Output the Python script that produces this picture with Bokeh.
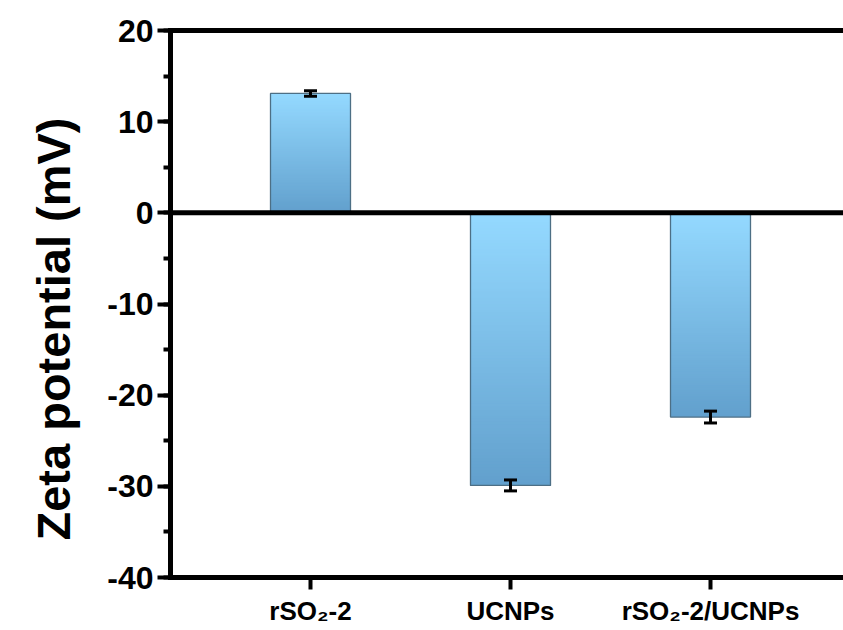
import numpy as np
from bokeh.plotting import figure
from bokeh.models import (Range1d, FixedTicker, SingleIntervalTicker, LinearAxis,
                          Span, Whisker, TeeHead, ColumnDataSource, Title)
from bokeh.embed import file_html
from bokeh.resources import INLINE

# Zeta potential measurements (mV) with standard deviations
samples = ["rSO\u2082-2", "UCNPs", "rSO\u2082-2/UCNPs"]
zeta_mv = [13.1, -29.9, -22.4]
zeta_err = [0.3, 0.6, 0.65]
y_ticks = [-40, -30, -20, -10, 0, 10, 20]
y_tick_labels = ["-40", "-30", "-20", "-10", "0", "10", "20"]
y_title = "Zeta potential (mV)"

x_pos = [1, 2, 3]
BAR_W = 0.4
TOP_RGB = np.array([148, 217, 255])
BOTTOM_RGB = np.array([98, 160, 205])
N_STEPS = 90
FONT = "Liberation Sans"

p = figure(width=843, height=630, output_backend="svg", toolbar_location=None,
           x_range=Range1d(0.3, 3.665), y_range=Range1d(-40, 20),
           min_border_left=170, min_border_right=0, min_border_top=30,
           min_border_bottom=53)
p.grid.visible = False
p.outline_line_color = None
p.background_fill_color = "white"
p.border_fill_color = "white"

# Vertical gradient fill per bar: light at the top edge, darker at the bottom edge
for xc, v in zip(x_pos, zeta_mv):
    top, bot = max(v, 0.0), min(v, 0.0)
    tops, lefts, rights, bottoms, colors = [], [], [], [], []
    for i in range(N_STEPS):
        t = i / (N_STEPS - 1)
        y_top = top - (top - bot) * i / N_STEPS
        rgb = (TOP_RGB + (BOTTOM_RGB - TOP_RGB) * t).round().astype(int)
        tops.append(y_top)
        bottoms.append(bot)
        lefts.append(xc - BAR_W / 2)
        rights.append(xc + BAR_W / 2)
        colors.append("#%02x%02x%02x" % tuple(rgb))
    p.quad(left=lefts, right=rights, top=tops, bottom=bottoms,
           fill_color=colors, line_color=None)

bars = ColumnDataSource(dict(
    x=x_pos,
    top=[max(v, 0.0) for v in zeta_mv],
    bottom=[min(v, 0.0) for v in zeta_mv],
    upper=[v + e for v, e in zip(zeta_mv, zeta_err)],
    lower=[v - e for v, e in zip(zeta_mv, zeta_err)],
))
p.vbar(x="x", top="top", bottom="bottom", width=BAR_W, source=bars,
       fill_color=None, line_color="#4d6f85", line_width=1.3)

err = Whisker(source=bars, base="x", upper="upper", lower="lower",
              line_width=3, line_color="black", level="overlay",
              upper_head=TeeHead(size=13, line_width=3, line_color="black"),
              lower_head=TeeHead(size=13, line_width=3, line_color="black"))
p.add_layout(err)

p.add_layout(Span(location=0, dimension="width", line_color="black", line_width=5))

# Left axis
ya = p.yaxis[0]
ya.ticker = SingleIntervalTicker(interval=10, num_minor_ticks=2)
ya.major_label_overrides = {t: s for t, s in zip(y_ticks, y_tick_labels)}
ya.axis_line_width = 5
ya.axis_line_cap = "square"
ya.major_tick_line_width = 4
ya.major_tick_out = 13
ya.major_tick_in = 0
ya.minor_tick_line_width = 4
ya.minor_tick_out = 7
ya.minor_tick_in = 0
ya.major_label_standoff = 4
ya.major_label_text_font = FONT
ya.major_label_text_font_style = "bold"
ya.major_label_text_font_size = "32px"
ya.major_label_text_color = "black"

# Vertical axis title, starting a fixed distance above the frame's bottom edge
p.add_layout(Title(text=y_title, align="left", vertical_align="top",
                   offset=37, standoff=46,
                   text_font=FONT, text_font_style="bold",
                   text_font_size="47px", text_color="black"), "left")

# Bottom axis with sample names
xa = p.xaxis[0]
xa.ticker = FixedTicker(ticks=x_pos)
xa.major_label_overrides = {x: s for x, s in zip(x_pos, samples)}
xa.axis_line_width = 5
xa.axis_line_cap = "square"
xa.major_tick_line_width = 4
xa.major_tick_out = 12
xa.major_tick_in = 0
xa.minor_tick_line_color = None
xa.major_label_standoff = 6
xa.major_label_text_font = FONT
xa.major_label_text_font_style = "bold"
xa.major_label_text_font_size = "26px"
xa.major_label_text_color = "black"

# Top frame line
top_axis = LinearAxis(ticker=FixedTicker(ticks=[]), axis_line_width=5,
                      axis_line_cap="square", major_tick_line_color=None,
                      minor_tick_line_color=None, major_label_text_font_size="0px")
p.add_layout(top_axis, "above")

open("out.html", "w").write(file_html(p, INLINE))
